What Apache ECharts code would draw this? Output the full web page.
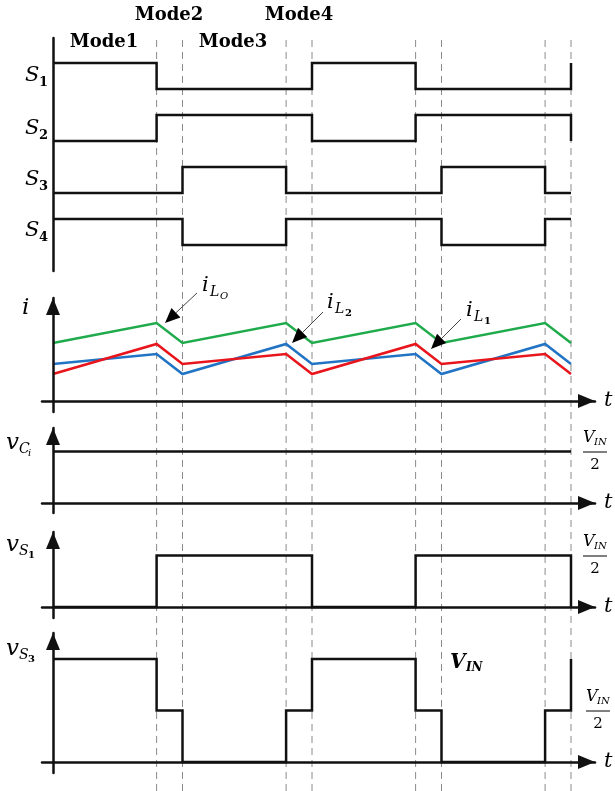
<!DOCTYPE html>
<html><head><meta charset="utf-8">
<script src="https://cdn.jsdelivr.net/npm/echarts@6/dist/echarts.min.js"></script>
<style>html,body{margin:0;padding:0;background:#fff}#c{width:615px;height:791px}</style>
</head><body><div id="c"></div>
<script>
// ---------------- data ----------------
const edges = [0, 4, 5, 9, 10, 14, 15, 19, 20];          // mode boundaries (time units)
const modeNames = ['Mode1', 'Mode2', 'Mode3', 'Mode4'];
// gate signals: logic level for each of the 8 intervals, then level after the last edge
const S1 = [1, 0, 0, 0, 1, 0, 0, 0]; const S1end = 1;
const S2 = [0, 1, 1, 1, 0, 1, 1, 1]; const S2end = 0;
const S3 = [0, 0, 1, 0, 0, 0, 1, 0]; const S3end = 0;
const S4 = [1, 1, 0, 1, 1, 1, 0, 1]; const S4end = 1;
// inductor currents at each edge (arbitrary units)
const iLo = [5.8, 7.8, 5.8, 7.8, 5.8, 7.8, 5.8, 7.8, 5.8];
const iL1 = [2.7, 5.7, 3.7, 4.7, 2.7, 5.7, 3.7, 4.7, 2.7];
const iL2 = [3.7, 4.7, 2.7, 5.7, 3.7, 4.7, 2.7, 5.7, 3.7];
// voltages, in units of VIN/2, per interval, then level after the last edge
const vCi = [1, 1, 1, 1, 1, 1, 1, 1]; const vCiEnd = 1;
const vS1 = [0, 1, 1, 1, 0, 1, 1, 1]; const vS1End = 0;
const vS3 = [2, 1, 0, 1, 2, 1, 0, 1]; const vS3End = 2;
const dashTimes = [4, 5, 9, 10, 14, 15, 19, 20];

// ---------------- layout ----------------
const L = { left: 42, right: 595, x0: 53, pxPerT: 25.9 };
const xMin = -(L.x0 - L.left) / L.pxPerT;
const xMax = (L.right - L.x0) / L.pxPerT;
const panels = {
  dash: { top: 38, bottom: 791, zero: 791, ppu: 753 },
  sw:   { top: 38, bottom: 271, zero: 271, ppu: 26 },
  cur:  { top: 298, bottom: 412, zero: 401, ppu: 10 },
  vc:   { top: 428, bottom: 513, zero: 503, ppu: 51.5 },
  vs1:  { top: 532, bottom: 618, zero: 607, ppu: 51.5 },
  vs3:  { top: 633, bottom: 773, zero: 762, ppu: 51.5 }
};
const order = ['dash', 'sw', 'cur', 'vc', 'vs1', 'vs3'];
const swOffset = { S1: 7, S2: 5, S3: 3, S4: 1 };
const BLACK = '#111';
const LW = 2.5;

function steps(levels, endLevel, offset) {
  const pts = [];
  for (let k = 0; k < levels.length; k++) {
    pts.push([edges[k], levels[k] + offset]);
    pts.push([edges[k + 1], levels[k] + offset]);
  }
  if (endLevel !== levels[levels.length - 1]) pts.push([edges[edges.length - 1], endLevel + offset]);
  return pts;
}
function ramp(vals) { return edges.map((t, k) => [t, vals[k]]); }

const grids = [], xAxes = [], yAxes = [];
const arrowAxes = ['cur', 'vc', 'vs1', 'vs3'];
order.forEach((name, gi) => {
  const p = panels[name];
  grids.push({ left: L.left, width: L.right - L.left, top: p.top, height: p.bottom - p.top });
  const withArrow = arrowAxes.includes(name);
  const arrowLine = {
    show: withArrow, onZero: true,
    symbol: ['none', 'triangle'], symbolSize: [14, 17], symbolOffset: [0, -8.5],
    lineStyle: { color: BLACK, width: LW }
  };
  xAxes.push({ type: 'value', gridIndex: gi, min: xMin, max: xMax, z: 4,
    axisLine: arrowLine, axisTick: { show: false }, axisLabel: { show: false }, splitLine: { show: false } });
  yAxes.push({ type: 'value', gridIndex: gi,
    min: -(p.bottom - p.zero) / p.ppu, max: (p.zero - p.top) / p.ppu, z: 4,
    axisLine: name === 'sw'
      ? { show: true, onZero: true, lineStyle: { color: BLACK, width: LW } }
      : arrowLine,
    axisTick: { show: false }, axisLabel: { show: false }, splitLine: { show: false } });
});
const gIdx = n => order.indexOf(n);

const series = [];
dashTimes.forEach(t => series.push({
  type: 'line', xAxisIndex: gIdx('dash'), yAxisIndex: gIdx('dash'), z: 1, silent: true,
  showSymbol: false, data: [[t, 0], [t, 1]],
  lineStyle: { color: '#8a8a8a', width: 1, type: [7, 5] }
}));
function wave(name, data, color) {
  series.push({ type: 'line', xAxisIndex: gIdx(name), yAxisIndex: gIdx(name), z: 3,
    showSymbol: false, data: data, lineStyle: { color: color, width: LW, join: 'miter', cap: 'butt' } });
}
wave('sw', steps(S1, S1end, swOffset.S1), BLACK);
wave('sw', steps(S2, S2end, swOffset.S2), BLACK);
wave('sw', steps(S3, S3end, swOffset.S3), BLACK);
wave('sw', steps(S4, S4end, swOffset.S4), BLACK);
wave('cur', ramp(iLo), '#1fab4c');
wave('cur', ramp(iL2), '#2173c4');
wave('cur', ramp(iL1), '#e8161c');
wave('vc', steps(vCi, vCiEnd, 0), BLACK);
wave('vs1', steps(vS1, vS1End, 0), BLACK);
wave('vs3', steps(vS3, vS3End, 0), BLACK);

// ---------------- text / annotations ----------------
const SERIF = '"DejaVu Serif", "Liberation Serif", serif';
function t(x, y, s, font, align) {
  return { type: 'text', x: x, y: y, z: 100, style: { text: s, font: font + ' ' + SERIF, fill: '#000',
    align: align || 'left', textAlign: align || 'left', verticalAlign: 'middle', textVerticalAlign: 'middle' } };
}
const G = [];
// mode labels
G.push(t(169, 15, modeNames[1], 'bold 18px', 'center'));
G.push(t(299, 15, modeNames[3], 'bold 18px', 'center'));
G.push(t(104, 42, modeNames[0], 'bold 18px', 'center'));
G.push(t(233, 42, modeNames[2], 'bold 18px', 'center'));
// S labels
[['1', 76], ['2', 129], ['3', 180], ['4', 231]].forEach(([d, y]) => {
  G.push(t(25, y, 'S', 'italic 21px'));
  G.push(t(39, y + 7, d, 'bold 13px'));
});
// i axis label
G.push(t(22, 308, 'i', 'italic 23px'));
// t labels
[401, 503, 607, 762].forEach(y => G.push(t(604, y, 't', 'italic 21px')));
// current labels
function iLabel(x, y, sub, subsub, subBold) {
  G.push(t(x, y, 'i', 'italic 21px'));
  G.push(t(x + 8, y + 6, 'L', 'italic 14px'));
  G.push(t(x + 18, y + 10, subsub, subBold ? 'bold 10px' : 'italic 10px'));
}
iLabel(202, 286, 'L', 'O', false);
iLabel(327, 303, 'L', '2', true);
iLabel(466, 311, 'L', '1', true);
function arrow(x1, y1, x2, y2) {
  const dx = x2 - x1, dy = y2 - y1, len = Math.hypot(dx, dy), ux = dx / len, uy = dy / len;
  const hl = 15, hw = 6.5, bx = x2 - ux * hl, by = y2 - uy * hl;
  G.push({ type: 'line', z: 100, shape: { x1: x1, y1: y1, x2: bx, y2: by }, style: { stroke: '#444', lineWidth: 1 } });
  G.push({ type: 'polygon', z: 100, shape: { points: [[x2, y2], [bx - uy * hw, by + ux * hw], [bx + uy * hw, by - ux * hw]] }, style: { fill: '#000' } });
}
arrow(197, 293, 165, 323);
arrow(323, 312, 292, 343);
arrow(461, 319, 431, 349);
// v labels
function vLabel(x, y, sub, subsub) {
  G.push(t(x, y, 'v', 'italic 23px'));
  G.push(t(x + 13, y + 6, sub, 'italic 14px'));
  G.push(t(x + 22, y + 10, subsub, /\d/.test(subsub) ? 'bold 10px' : 'italic 10px'));
}
vLabel(6, 443, 'C', 'i');
vLabel(6, 545, 'S', '1');
vLabel(6, 649, 'S', '3');
// VIN/2 fractions
function half(cx, barY) {
  G.push(t(cx - 12, barY - 14, 'V', 'italic 16px'));
  G.push(t(cx - 1, barY - 10, 'IN', 'italic 10px'));
  G.push({ type: 'line', z: 100, shape: { x1: cx - 12, y1: barY, x2: cx + 12, y2: barY }, style: { stroke: '#000', lineWidth: 1 } });
  G.push(t(cx, barY + 13, '2', '15px', 'center'));
}
half(595, 452);
half(595, 556);
half(598, 711);
// VIN label in vS3 panel
G.push(t(450, 663, 'V', 'bold italic 20px'));
G.push(t(466, 668, 'IN', 'bold italic 12px'));

const chart = echarts.init(document.getElementById('c'), null, { renderer: 'canvas' });
chart.setOption({
  animation: false, backgroundColor: '#fff',
  grid: grids, xAxis: xAxes, yAxis: yAxes, series: series, graphic: G
});
</script></body></html>
